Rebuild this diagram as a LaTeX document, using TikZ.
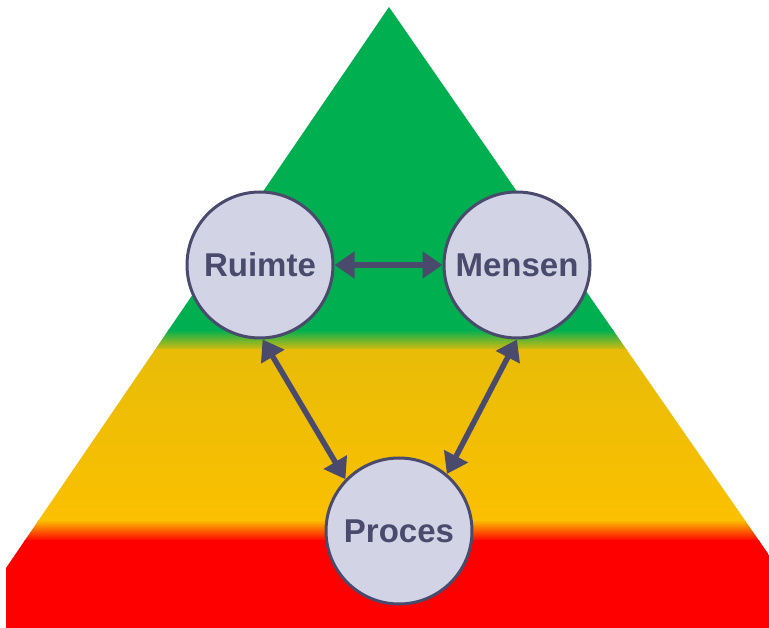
\documentclass[tikz,border=0pt]{standalone}
\usepackage{fontspec}
\setmainfont{Liberation Sans}
\usetikzlibrary{arrows.meta}
\definecolor{gr}{HTML}{00B050}
\definecolor{yt}{HTML}{E8BC08}
\definecolor{yb}{HTML}{FBC000}
\definecolor{rd}{HTML}{FF0000}
\definecolor{ink}{HTML}{4A4A6C}
\definecolor{cfill}{HTML}{D3D3E6}
\tikzset{
  circ/.style={circle, draw=ink, line width=3pt, fill=cfill, minimum size=146pt, inner sep=0pt,
    text=ink, font=\fontsize{33}{36}\selectfont\bfseries},
  link/.style={draw=ink, line width=5.5pt, {Triangle[length=20pt,width=26pt]}-{Triangle[length=20pt,width=26pt]}}
}
\begin{document}
\begin{tikzpicture}[x=1pt,y=-1pt]
\useasboundingbox (0,0) rectangle (769,628);
\begin{scope}
\clip (389,7) -- (6,568) -- (6,628) -- (769,628) -- (769,555) -- cycle;
\fill[gr] (0,0) rectangle (769,331);
\shade[top color=gr, bottom color=yt] (0,330) rectangle (769,351);
\shade[top color=yt, bottom color=yb] (0,350) rectangle (769,521);
\shade[top color=yb, bottom color=rd] (0,520) rectangle (769,541);
\fill[rd] (0,540) rectangle (769,628);
\end{scope}
\node[circ] (r) at (260,265) {Ruimte};
\node[circ] (m) at (517,265) {Mensen};
\node[circ] (p) at (399,531) {Proces};
\draw[link] (r.east) -- (m.west);
\draw[link] (r.-88) -- (p.136);
\draw[link] (m.-90) -- (p.50);
\end{tikzpicture}
\end{document}
